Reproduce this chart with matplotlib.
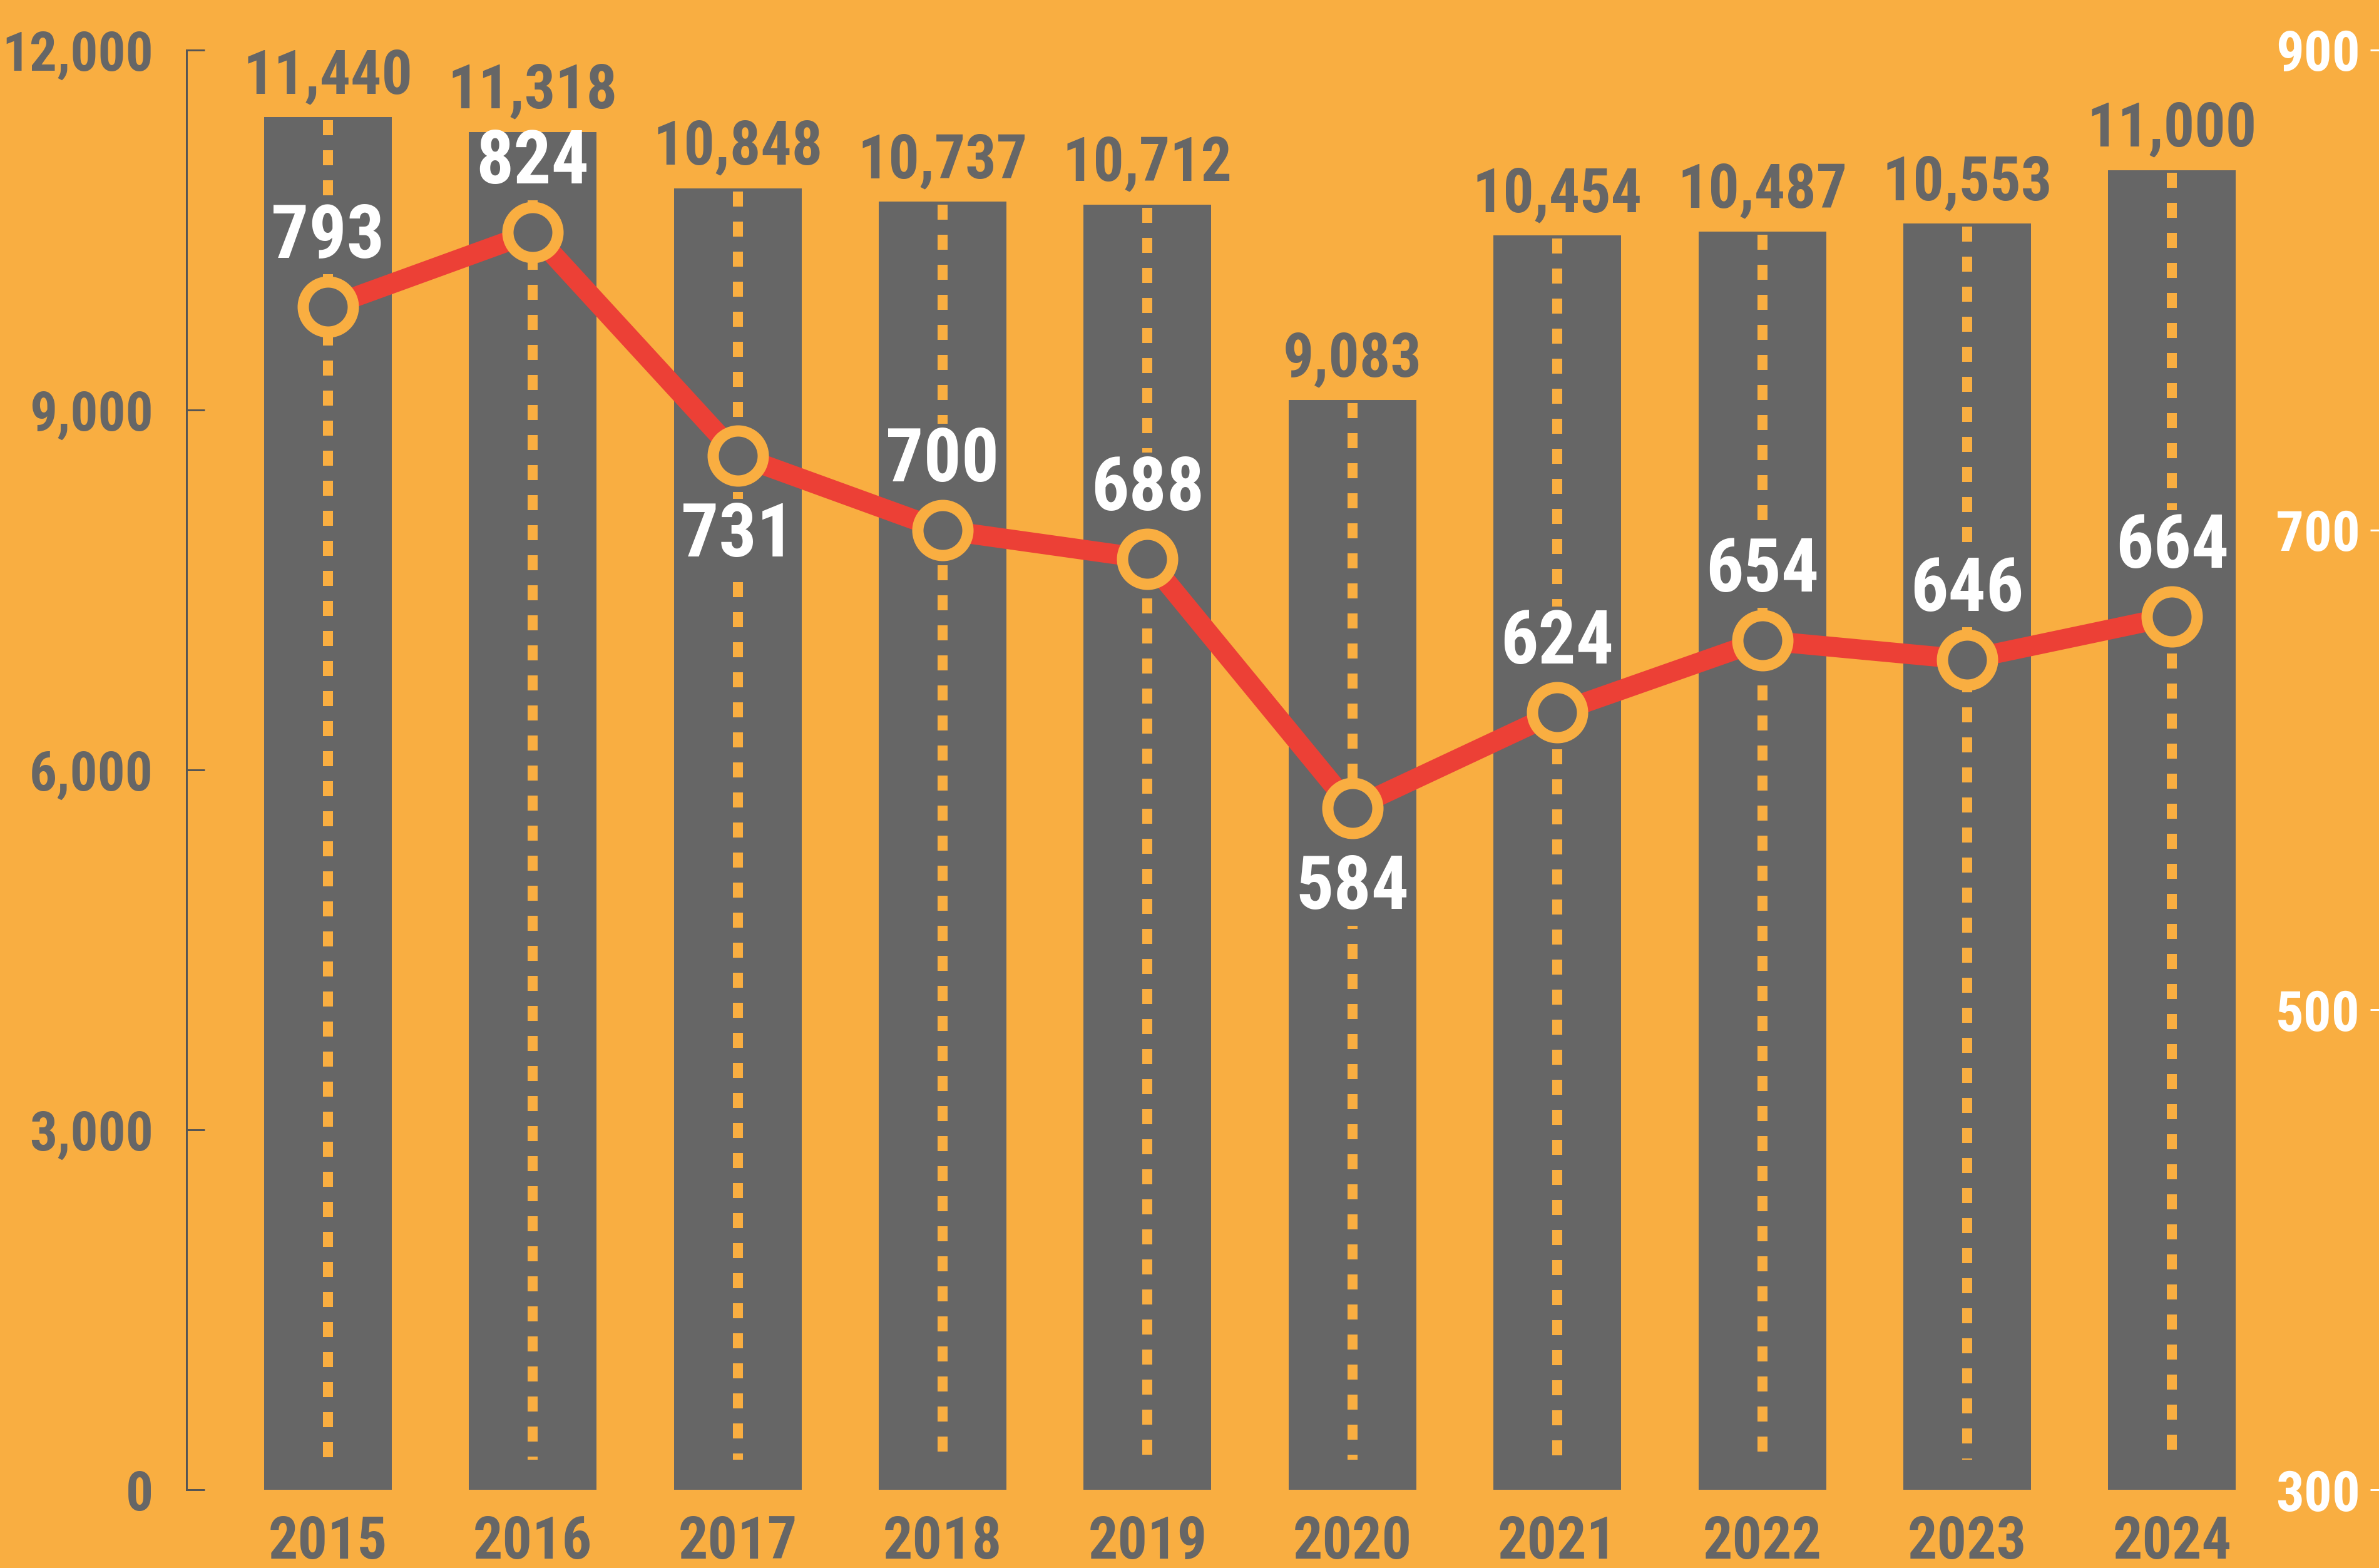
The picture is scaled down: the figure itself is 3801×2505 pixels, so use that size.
import matplotlib
matplotlib.use('Agg')
import matplotlib.pyplot as plt
from matplotlib import font_manager
from matplotlib.font_manager import FontProperties
import numpy as np

# data
years = ['2015', '2016', '2017', '2018', '2019', '2020', '2021', '2022', '2023', '2024']
bar_values = [11440, 11318, 10848, 10737, 10712, 9083, 10454, 10487, 10553, 11000]
line_values = [793, 824, 731, 700, 688, 584, 624, 654, 646, 664]
left_ticks = [0, 3000, 6000, 9000, 12000]
right_ticks = [300, 500, 700, 900]
# where the white label sits relative to its marker
label_side = ['above', 'above', 'below', 'above', 'above', 'below', 'above', 'above', 'above', 'above']

# colours
BG = '#F9AE41'
GRAY = '#666666'
RED = '#EC4036'

DPI = 100
PX = 72 / DPI  # points per pixel


def as_weight(w):
    if isinstance(w, str):
        return font_manager.weight_dict.get(w, 400)
    return w


# the original uses a condensed bold face, look for something close
def pick_font():
    fonts = [f for f in font_manager.fontManager.ttflist if f.style == 'normal']
    narrow = [f for f in fonts
              if any(k in (f.name + ' ' + f.fname).lower() for k in ('narrow', 'condensed'))
              or f.stretch in ('condensed', 'semi-condensed', 'extra-condensed', 500 - 200)]
    for pool in (narrow, fonts):
        bold = [f for f in pool if as_weight(f.weight) >= 700]
        for pref in ('Liberation Sans Narrow', 'Roboto Condensed', 'DejaVu Sans',
                     'Liberation Sans', 'Roboto'):
            for f in bold:
                if f.name == pref:
                    return f.fname
        if pool is narrow and bold:
            return bold[0].fname
    return font_manager.findfont(FontProperties(family='DejaVu Sans', weight='bold'))


FONT_PATH = pick_font()

# width of a digit as a fraction of the em
ft = font_manager.get_font(FONT_PATH)
ft.set_size(100, 72)
ft.set_text('0000000000')
DIGIT = ft.get_width_height()[0] / 64 / 1000
CAP = 0.72


def size_for(cap_px, digit_px):
    # compromise between matching the height and the width of the original digits
    em_cap = cap_px / CAP
    em_w = digit_px / DIGIT
    return (em_cap ** 0.5) * (em_w ** 0.5) * PX


def fp(size):
    return FontProperties(fname=FONT_PATH, size=size)


bar_size = size_for(79, 44)
line_size = size_for(96, 54)
left_size = size_for(69, 40)
year_size = size_for(73, 44)
right_size = size_for(70, 41)

plt.rcParams['lines.scale_dashes'] = False

fig = plt.figure(figsize=(38.01, 25.05), dpi=DPI, facecolor=BG)
ax = fig.add_axes([0.0784, 0.0499, 0.9216, 0.9182])
ax.set_facecolor(BG)

x = np.arange(len(years))
bars = ax.bar(x, bar_values, width=0.623, color=GRAY, zorder=2)

# dashed "road" line inside each bar, value on top
for xi, v in zip(x, bar_values):
    ax.plot([xi, xi], [v - 25, 250], color=BG, lw=16 * PX, dashes=(24 * PX, 24 * PX),
            dash_capstyle='butt', zorder=3)
    ax.annotate(f'{v:,}', (xi, v), xytext=(0, 38 * PX), textcoords='offset points',
                ha='center', va='baseline', fontproperties=fp(bar_size), color=GRAY, zorder=4)

ax.set_xlim(-0.69, 10.01)
ax.set_ylim(0, 12000)
ax.set_yticks(left_ticks)
ax.set_yticklabels([f'{t:,}' for t in left_ticks])
ax.set_xticks(x)
ax.set_xticklabels(years)
ax.tick_params(axis='y', direction='in', length=29 * PX, width=3 * PX, color='#555555',
               labelcolor=GRAY, pad=53 * PX)
ax.tick_params(axis='x', length=0, labelcolor=GRAY, pad=110 * PX)
for lab in ax.get_yticklabels():
    lab.set_fontproperties(fp(left_size))
for lab in ax.get_xticklabels():
    lab.set_fontproperties(fp(year_size))
    lab.set_verticalalignment('baseline')
for s in ['top', 'right', 'bottom']:
    ax.spines[s].set_visible(False)
ax.spines['left'].set_color('#555555')
ax.spines['left'].set_linewidth(3 * PX)

# right axis with the line
ax2 = ax.twinx()
ax2.set_ylim(300, 900)
ax2.set_yticks(right_ticks)
ax2.tick_params(axis='y', direction='in', length=14 * PX, width=3 * PX, colors='white',
                pad=-30 * PX)
for lab in ax2.get_yticklabels():
    lab.set_fontproperties(fp(right_size))
    lab.set_horizontalalignment('right')
for s in ax2.spines.values():
    s.set_visible(False)

ax2.plot(x, line_values, color=RED, lw=32 * PX, marker='o', ms=80 * PX, mfc=GRAY,
         mec=BG, mew=18 * PX, solid_joinstyle='round', zorder=5)

line_cap = line_size / PX * CAP
for xi, v, side, bar in zip(x, line_values, label_side, bars):
    dy = 78 * PX if side == 'above' else -(75 + line_cap) * PX
    t = ax2.annotate(str(v), (xi, v), xytext=(0, dy), textcoords='offset points',
                     ha='center', va='baseline', fontproperties=fp(line_size),
                     color='white', zorder=4,
                     bbox=dict(boxstyle='square,pad=0.02', fc=GRAY, ec='none'))
    t.get_bbox_patch().set_clip_path(bar)

fig.savefig('out.png', dpi=DPI, facecolor=BG)
